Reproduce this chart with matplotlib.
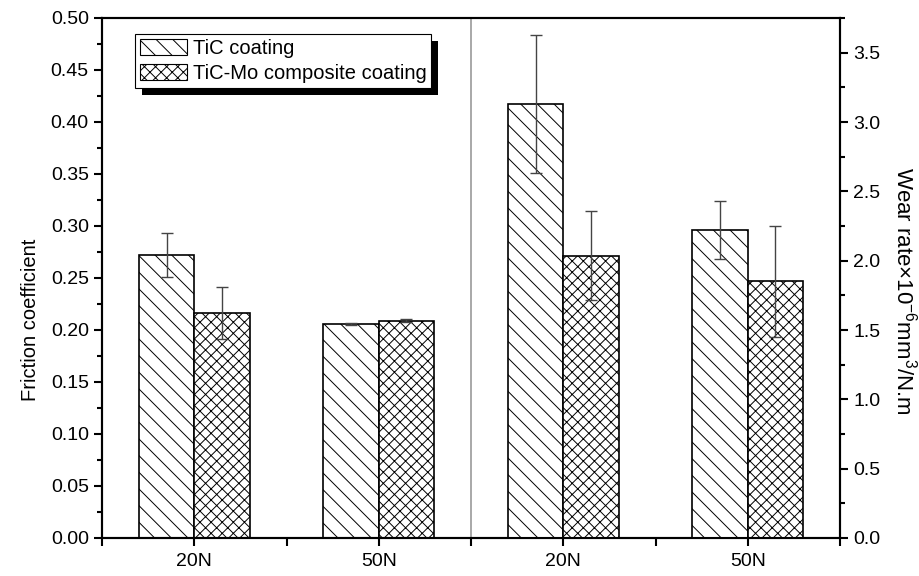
import numpy as np
import matplotlib
matplotlib.use('Agg')
import matplotlib.pyplot as plt
from matplotlib.patches import Rectangle, Patch
from matplotlib.ticker import MultipleLocator, FormatStrFormatter
from matplotlib.transforms import IdentityTransform

plt.rcParams['font.family'] = ['Liberation Sans', 'DejaVu Sans']
plt.rcParams['mathtext.fontset'] = 'custom'
plt.rcParams['mathtext.rm'] = 'Liberation Sans'
plt.rcParams['mathtext.default'] = 'regular'
plt.rcParams['hatch.linewidth'] = 0.7

# Data
loads = ['20N', '50N']
series = ['TiC coating', 'TiC-Mo composite coating']
hatches = ['\\\\', 'xxx']

friction_tic = [0.272, 0.206]
friction_tic_err = [0.021, 0.001]
friction_mo = [0.216, 0.209]
friction_mo_err = [0.025, 0.0015]

wear_tic = [3.13, 2.22]
wear_tic_err = [0.50, 0.21]
wear_mo = [2.035, 1.85]
wear_mo_err = [0.32, 0.40]

fig = plt.figure(figsize=(9.2, 5.76), dpi=100)
ax = fig.add_axes([102/920, 38/576, 738/920, 520/576])
ax2 = ax.twinx()

width = 0.6
pos_left = np.array([1, 3])
pos_right = np.array([5, 7])

bar_kw = dict(width=width, color='white', edgecolor='black', linewidth=1.2)
err_kw = dict(ecolor='#444444', elinewidth=1, capsize=4, capthick=1)

ax.bar(pos_left - width/2, friction_tic, hatch=hatches[0], yerr=friction_tic_err,
       error_kw=err_kw, **bar_kw)
ax.bar(pos_left + width/2, friction_mo, hatch=hatches[1], yerr=friction_mo_err,
       error_kw=err_kw, **bar_kw)
ax2.bar(pos_right - width/2, wear_tic, hatch=hatches[0], yerr=wear_tic_err,
        error_kw=err_kw, **bar_kw)
ax2.bar(pos_right + width/2, wear_mo, hatch=hatches[1], yerr=wear_mo_err,
        error_kw=err_kw, **bar_kw)

# divider between the two halves
ax.axvline(4, color='#999999', linewidth=1.2, zorder=0.5)

ax.set_xlim(0, 8)
ax.set_ylim(0, 0.5)
ax2.set_ylim(0, 3.75)

ax.set_xticks(range(9))
ax.set_xticklabels(['', loads[0], '', loads[1], '', loads[0], '', loads[1], ''])
ax.yaxis.set_major_locator(MultipleLocator(0.05))
ax.yaxis.set_minor_locator(MultipleLocator(0.025))
ax.yaxis.set_major_formatter(FormatStrFormatter('%.2f'))
ax2.yaxis.set_major_locator(MultipleLocator(0.5))
ax2.yaxis.set_minor_locator(MultipleLocator(0.25))
ax2.yaxis.set_major_formatter(FormatStrFormatter('%.1f'))

ax.tick_params(axis='y', which='major', length=6, width=1.5, labelsize=14, direction='out')
ax.tick_params(axis='y', which='minor', length=3.5, width=1.5, direction='out')
ax.tick_params(axis='x', which='major', length=6, width=1.5, pad=5, labelsize=14,
               direction='out')
ax2.tick_params(axis='y', which='major', length=6, width=1.5, labelsize=14, direction='out')
ax2.tick_params(axis='y', which='minor', length=3.5, width=1.5, direction='out')

for a in (ax, ax2):
    for s in a.spines.values():
        s.set_linewidth(1.5)

ax.set_ylabel('Friction coefficient', fontsize=14.5, va='center')
ax.yaxis.set_label_coords(-0.097, 0.42)
ax2.set_ylabel('Wear rate×10$^{-6}$mm$^{3}$/N.m', fontsize=16, rotation=270,
               va='center')
ax2.yaxis.set_label_coords(1.088, 0.475)

handles = [Patch(facecolor='white', edgecolor='black', hatch=h, linewidth=0.8) for h in hatches]
leg = ax2.legend(handles, series, loc='upper left', bbox_to_anchor=(0.045, 0.969),
                 borderaxespad=0, fancybox=False, framealpha=1, edgecolor='black',
                 fontsize=14.5, handlelength=2.3, handleheight=0.8, handletextpad=0.3,
                 labelspacing=0.3, borderpad=0.25)
leg.get_frame().set_linewidth(0.8)
leg.set_zorder(6)

fig.canvas.draw()
bb = leg.get_window_extent()
shadow = Rectangle((bb.x0 + 7, bb.y0 - 7), bb.width, bb.height, transform=IdentityTransform(),
                   facecolor='black', edgecolor='none', zorder=5.5)
ax2.add_artist(shadow)

fig.savefig('out.png', dpi=100)
